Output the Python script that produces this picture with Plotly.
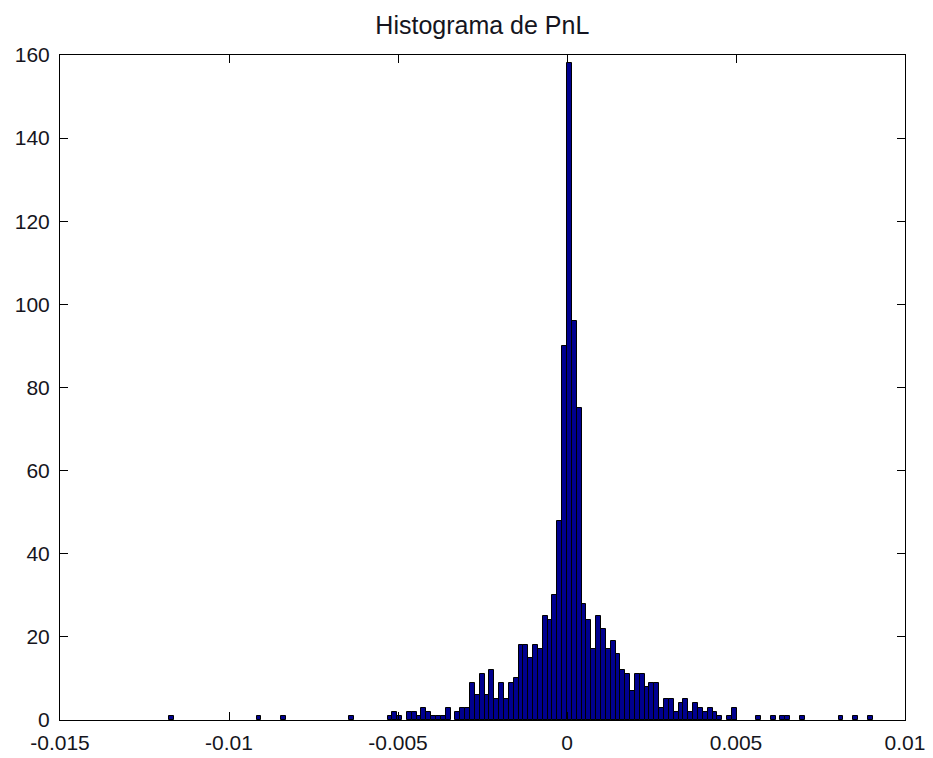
import plotly.graph_objects as go

# ---- data ----
bin_width = 0.0001435          # width of one histogram bin (PnL units)
first_edge = -82 * bin_width   # left edge of the first bin

counts = (
    [1] + [0] * 17 +            # far left tail
    [1] + [0] * 4 +
    [1] + [0] * 13 +
    [1] + [0] * 7 +
    [1, 2, 1, 0, 2, 2, 1, 3, 2, 1, 1, 1, 3, 0, 2, 3, 3] +
    [9, 6, 11, 6, 12, 5, 9, 5, 9, 10, 18, 18, 15, 18, 17, 25, 24, 30, 48, 90] +
    [158, 96, 75, 28, 24, 17, 25, 22, 17, 19, 16, 12, 11, 7, 11, 11, 8, 9, 9] +
    [3, 5, 5, 2, 4, 5, 2, 4, 3, 2, 3, 2, 1, 0, 1, 3] +
    [0, 0, 0, 0, 1, 0, 0, 1, 0, 1, 1, 0, 0, 1, 0, 0, 0, 0, 0, 0, 0, 1, 0, 0, 1, 0, 0, 1]
)

x_tick_vals = [-0.015, -0.01, -0.005, 0, 0.005, 0.01]
x_tick_text = ["-0.015", "-0.01", "-0.005", "0", "0.005", "0.01"]
y_tick_vals = [0, 20, 40, 60, 80, 100, 120, 140, 160]

centers = [first_edge + (i + 0.5) * bin_width for i in range(len(counts))]
# empty bins get no outline so the baseline stays a single thin line
outline_widths = [1 if c > 0 else 0 for c in counts]

fig = go.Figure()
fig.add_trace(go.Bar(
    x=centers,
    y=counts,
    width=[bin_width] * len(counts),
    marker=dict(color="#00008F", line=dict(color="black", width=outline_widths)),
    showlegend=False,
    hoverinfo="x+y",
))

font_family = "Liberation Sans, Arial, sans-serif"
axis_common = dict(
    showline=True, linecolor="black", linewidth=1,
    mirror="allticks", ticks="inside", ticklen=8, tickcolor="black",
    showgrid=False, zeroline=False, automargin=False,
    tickfont=dict(family=font_family, size=21, color="#151520"),
)

fig.update_layout(
    width=933, height=758,
    margin=dict(l=60, r=28, t=55, b=38, autoexpand=False),
    paper_bgcolor="white", plot_bgcolor="white",
    bargap=0,
    title=dict(
        text="Histograma de PnL",
        font=dict(family=font_family, size=25, color="#151520"),
        x=0.517, xanchor="center", xref="container",
        y=1 - 25 / 758, yanchor="middle", yref="container",
    ),
)
fig.update_xaxes(range=[-0.015, 0.01], tickvals=x_tick_vals, ticktext=x_tick_text,
                 ticklabelstandoff=4, **axis_common)
fig.update_yaxes(range=[0, 160], tickvals=y_tick_vals, ticklabelstandoff=5, **axis_common)

fig.write_html("out.html")
